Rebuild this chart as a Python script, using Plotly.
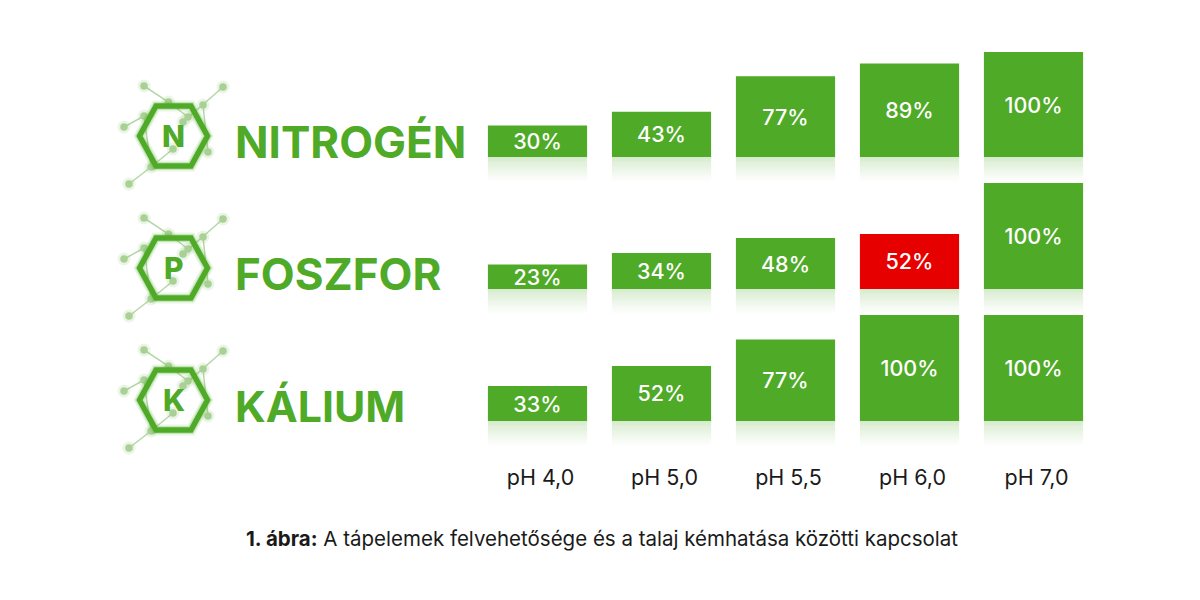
import plotly.graph_objects as go

ph_labels = ["pH 4,0", "pH 5,0", "pH 5,5", "pH 6,0", "pH 7,0"]
nitrogen = [30, 43, 77, 89, 100]
foszfor = [23, 34, 48, 52, 100]
kalium = [33, 52, 77, 100, 100]
foszfor_colors = ["#4FAA28", "#4FAA28", "#4FAA28", "#E60000", "#4FAA28"]
row_names = ["NITROGÉN", "FOSZFOR", "KÁLIUM"]
row_letters = ["N", "P", "K"]
caption_bold = "1. ábra:"
caption_text = "A tápelemek felvehetősége és a talaj kémhatása közötti kapcsolat"

GREEN = "#4FAA28"
FONT = "Inter"
W, H = 1200, 600
# pixel layout of each row: top of the 100% level, px per percentage point
rows = [(52, 1.05), (183, 1.06), (315, 1.06)]
REFLECT = 24  # units below the baseline
STEPS = 12
title_sizes = [44, 44, 42.8]

fig = go.Figure()
series = [nitrogen, foszfor, kalium]
colors = [[GREEN] * 5, foszfor_colors, [GREEN] * 5]

for i, (vals, cols) in enumerate(zip(series, colors)):
    ya = "y" if i == 0 else f"y{i+1}"
    fig.add_trace(go.Bar(
        x=ph_labels, y=vals, yaxis=ya, xaxis="x", marker=dict(color=cols, line_width=0),
        text=[f"{v}%" for v in vals], textposition="inside", insidetextanchor="middle",
        textangle=0, constraintext="none",
        textfont=dict(family=FONT, size=21.5, color="white", weight=500),
        showlegend=False, hoverinfo="skip", cliponaxis=False,
    ))
    # fading reflection under every bar
    step = REFLECT / STEPS
    for k in range(STEPS):
        fig.add_trace(go.Bar(
            x=ph_labels, y=[step] * 5, base=[-(k + 1) * step] * 5, yaxis=ya, xaxis="x",
            marker=dict(color=GREEN, line_width=0),
            opacity=0.22 * (1 - k / STEPS) ** 1.3,
            showlegend=False, hoverinfo="skip",
        ))

# molecule icon in page pixels, relative to the hexagon centre
HX, HY, HC = 34, 30, 17.5
hexagon = [(0, -HY), (HC, -HY), (HX, 0), (HC, HY), (-HC, HY), (-HX, 0), (-HC, -HY), (0, -HY)]
edges = [
    [(-29.5, -50), (-5, -34), (14.5, -19)],
    [(49.5, -49), (29.5, -31), (9.5, -14)],
    [(29.5, -31), (34.5, 16)],
    [(-49.5, -9), (-29.5, -20), (-22.5, 31), (-44.5, 48)],
    [(-22.5, 31), (-0.5, 13)],
]
nodes = [(-29.5, -50), (-5, -34), (14.5, -19), (9.5, -14), (29.5, -31), (49.5, -49),
         (34.5, 16), (-0.5, 13), (-22.5, 31), (-44.5, 48), (-49.5, -9), (-29.5, -20)]
centres = [(173.5, 136), (173.5, 268), (173.5, 400)]

def overlay(xs, ys, **kw):
    fig.add_trace(go.Scatter(x=xs, y=ys, xaxis="x2", yaxis="y4", showlegend=False,
                             hoverinfo="skip", **kw))

for cx, cy in centres:
    for e in edges:
        overlay([cx + p[0] for p in e], [cy + p[1] for p in e], mode="lines",
                line=dict(color="#B5D8A6", width=1.5))
    overlay([cx + p[0] for p in nodes], [cy + p[1] for p in nodes], mode="markers",
            marker=dict(color="rgba(120,185,90,0.15)", size=13, line_width=0))
    overlay([cx + p[0] for p in nodes], [cy + p[1] for p in nodes], mode="markers",
            marker=dict(color="#A9D195", size=7.5, line_width=0))
    for w, a in [(11, 0.12), (8, 0.22)]:
        overlay([cx + p[0] for p in hexagon], [cy + p[1] for p in hexagon], mode="lines",
                line=dict(color=f"rgba(79,170,40,{a})", width=w))
    overlay([cx + p[0] for p in hexagon], [cy + p[1] for p in hexagon], mode="lines",
            line=dict(color=GREEN, width=5.5))

layout = dict(
    width=W, height=H, margin=dict(l=0, r=0, t=0, b=0), autosize=False,
    paper_bgcolor="white", plot_bgcolor="rgba(0,0,0,0)", barmode="overlay", bargap=0.2,
    xaxis=dict(domain=[475.5 / W, 1095.5 / W], range=[-0.5, 4.5], anchor="free",
               position=1 - 462 / H, type="category", categoryorder="array",
               categoryarray=ph_labels, showgrid=False, zeroline=False, showline=False,
               ticks="", ticklabelshift=3,
               tickfont=dict(family=FONT, size=21.5, color="#1a1a1a")),
    xaxis2=dict(domain=[0, 1], range=[0, W], visible=False, anchor="y4"),
    yaxis4=dict(domain=[0, 1], range=[H, 0], visible=False, anchor="x2"),
)
for i, (top, scale) in enumerate(rows):
    bottom = top + (100 + REFLECT) * scale
    name = "yaxis" if i == 0 else f"yaxis{i+1}"
    layout[name] = dict(domain=[1 - bottom / H, 1 - top / H], range=[-REFLECT, 100],
                        visible=False, anchor="x", fixedrange=True)
fig.update_layout(**layout)

annots = []
for name, letter, size, (cx, cy) in zip(row_names, row_letters, title_sizes, centres):
    annots.append(dict(x=233 / W, y=1 - (cy + 6) / H, xref="paper", yref="paper", xanchor="left",
                       yanchor="middle", text=name, showarrow=False,
                       font=dict(family=FONT, size=size, color=GREEN, weight=700)))
    annots.append(dict(x=(cx) / W, y=1 - (cy - 0.5) / H, xref="paper", yref="paper", xanchor="center",
                       yanchor="middle", text=letter, showarrow=False,
                       font=dict(family=FONT, size=30, color=GREEN, weight=800)))
annots.append(dict(x=602 / W, y=1 - 538 / H, xref="paper", yref="paper", xanchor="center",
                   yanchor="middle", showarrow=False,
                   text=f"<b>{caption_bold}</b> {caption_text}",
                   font=dict(family=FONT, size=20.5, color="#1a1a1a")))
fig.update_layout(annotations=annots)
fig.write_html("out.html", config={"displayModeBar": False},
               post_script="document.body.style.margin='0';document.body.style.overflow='hidden';")
